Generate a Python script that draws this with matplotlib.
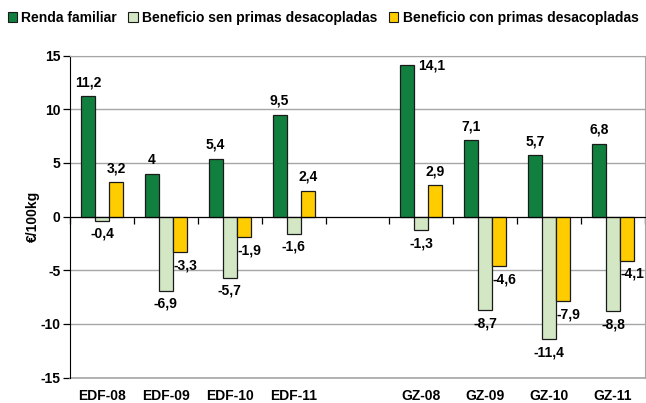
import numpy as np
import matplotlib
matplotlib.use("Agg")
import matplotlib.pyplot as plt
from matplotlib.patches import Patch
import matplotlib.transforms as mtransforms

plt.rcParams['font.family'] = ['Liberation Sans', 'DejaVu Sans']
plt.rcParams['font.weight'] = 'bold'

categories = ["EDF-08", "EDF-09", "EDF-10", "EDF-11", "", "GZ-08", "GZ-09", "GZ-10", "GZ-11"]
series_names = ["Renda familiar", "Beneficio sen primas desacopladas", "Beneficio con primas desacopladas"]
renda = [11.2, 4.0, 5.4, 9.5, None, 14.1, 7.1, 5.7, 6.8]
sen_primas = [-0.4, -6.9, -5.7, -1.6, None, -1.3, -8.7, -11.4, -8.8]
con_primas = [3.2, -3.3, -1.9, 2.4, None, 2.9, -4.6, -7.9, -4.1]
yticks = [-15, -10, -5, 0, 5, 10, 15]

colors = ["#117F3E", "#D3E7C5", "#FFCC00"]
edge = "#1a1a1a"

fig = plt.figure(figsize=(6.46, 4.03), dpi=100)
ax = fig.add_axes([70/646, 1-377.5/403, 575/646, (377.5-55.5)/403])

x = np.arange(len(categories))
w = 0.22
offsets = [-w, 0, w]

def fmt(v):
    s = ("%.1f" % v).replace(".", ",")
    if s.endswith(",0"):
        s = s[:-2]
    return s

ylo, yhi = -15, 15
for si, (vals, col, off) in enumerate(zip([renda, sen_primas, con_primas], colors, offsets)):
    for i, v in enumerate(vals):
        if v is None:
            continue
        xc = x[i] + off
        ax.bar(xc, v, width=w, color=col, edgecolor=edge, linewidth=0.9, zorder=3)
        if v >= 0:
            if v + 1.6 > yhi:
                ax.annotate(fmt(v), (xc + w/2, v), xytext=(3, 0), textcoords="offset points",
                            ha="left", va="center", fontsize=10, fontweight="bold", zorder=5)
            else:
                ax.annotate(fmt(v), (xc, v), xytext=(0, 10), textcoords="offset points",
                            ha="center", va="center", fontsize=10, fontweight="bold", zorder=5)
        else:
            dx = 4 if si == 2 else 0
            ax.annotate(fmt(v), (xc, v), xytext=(dx, -9.5), textcoords="offset points",
                        ha="center", va="center", fontsize=10, fontweight="bold", zorder=5)

ax.set_xlim(-0.5, len(categories) - 0.5)
ax.set_ylim(ylo, yhi)
ax.set_yticks(yticks)
ax.set_yticklabels([str(t) for t in yticks], fontsize=10, fontweight="bold")
ax.yaxis.grid(True, color="#A6A6A6", linewidth=1.0, zorder=0)
ax.set_axisbelow(True)

# category axis crossing at zero, ticks at slot boundaries
ax.spines['bottom'].set_position(('data', 0))
ax.spines['bottom'].set_color('black')
ax.spines['bottom'].set_zorder(4)
ax.set_xticks(np.arange(len(categories) + 1) - 0.5)
ax.set_xticklabels([])
ax.tick_params(axis='x', direction='out', length=5, color='black', width=0.9)
ax.tick_params(axis='y', direction='out', length=5, color='black', width=0.9, pad=2)
ax.spines['left'].set_color('black')
ax.spines['top'].set_color('#A6A6A6')
ax.spines['right'].set_color('#A6A6A6')

trans = mtransforms.blended_transform_factory(ax.transData, ax.transAxes)
for i, c in enumerate(categories):
    ax.annotate(c, (x[i], 0), xycoords=trans, xytext=(0, -13), textcoords="offset points",
                ha="center", va="center", fontsize=10, fontweight="bold")

# bottom border line at -15
ax.axhline(ylo, color="#A6A6A6", linewidth=1.2, zorder=1, clip_on=False)

ax.set_ylabel("€/100kg", fontsize=10, fontweight="bold", labelpad=0)

handles = [Patch(facecolor=c, edgecolor=edge, linewidth=0.8) for c in colors]
fig.legend(handles, series_names, loc="center", bbox_to_anchor=(0.5, 1 - 18/403), ncol=3,
           frameon=False, prop={'size': 10, 'weight': 'bold'},
           handlelength=0.7, handleheight=0.7, handletextpad=0.3, columnspacing=0.8,
           borderaxespad=0)

fig.savefig("out.png", dpi=100)
